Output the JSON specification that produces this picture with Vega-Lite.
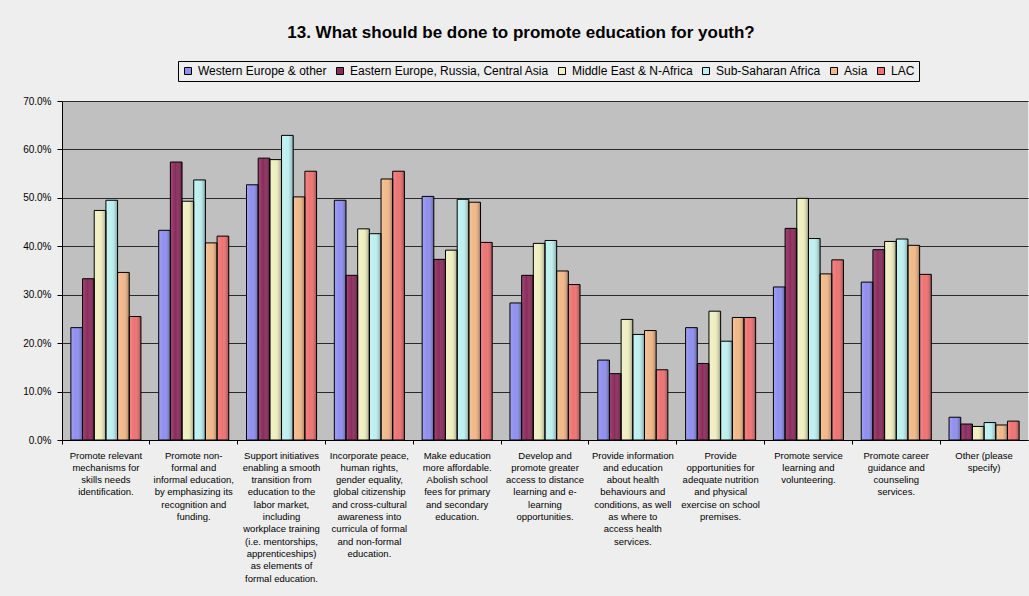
{
  "$schema": "https://vega.github.io/schema/vega-lite/v6.json",
  "width": 966,
  "height": 339,
  "autosize": {"type": "none"},
  "padding": {"left": 62, "top": 101, "right": 1, "bottom": 156},
  "background": "#eeeeee",
  "config": {
    "font": "Liberation Sans",
    "view": {"fill": "#c0c0c0", "stroke": null}
  },
  "title": {
    "text": "13. What should be done to promote education for youth?",
    "fontSize": 17,
    "fontWeight": "bold",
    "color": "#000000",
    "anchor": "middle",
    "dx": -24,
    "offset": 19
  },
  "data": {
    "values": [
      {"q": "Promote relevant|mechanisms for|skills needs|identification.", "Western Europe & other": 0.232, "Eastern Europe, Russia, Central Asia": 0.333, "Middle East & N-Africa": 0.474, "Sub-Saharan Africa": 0.495, "Asia": 0.346, "LAC": 0.255},
      {"q": "Promote non-|formal  and|informal education,|by emphasizing its|recognition and|funding.", "Western Europe & other": 0.433, "Eastern Europe, Russia, Central Asia": 0.574, "Middle East & N-Africa": 0.493, "Sub-Saharan Africa": 0.537, "Asia": 0.407, "LAC": 0.421},
      {"q": "Support initiatives|enabling a smooth|transition from|education to the|labor market,|including|workplace training|(i.e. mentorships,|apprenticeships)|as elements of|formal education.", "Western Europe & other": 0.527, "Eastern Europe, Russia, Central Asia": 0.582, "Middle East & N-Africa": 0.579, "Sub-Saharan Africa": 0.629, "Asia": 0.502, "LAC": 0.555},
      {"q": "Incorporate peace,|human rights,|gender equality,|global citizenship|and cross-cultural|awareness into|curricula of formal|and non-formal|education.", "Western Europe & other": 0.495, "Eastern Europe, Russia, Central Asia": 0.340, "Middle East & N-Africa": 0.436, "Sub-Saharan Africa": 0.426, "Asia": 0.539, "LAC": 0.555},
      {"q": "Make education|more affordable.|Abolish school|fees for primary|and secondary|education.", "Western Europe & other": 0.503, "Eastern Europe, Russia, Central Asia": 0.373, "Middle East & N-Africa": 0.392, "Sub-Saharan Africa": 0.497, "Asia": 0.491, "LAC": 0.408},
      {"q": "Develop and|promote greater|access to distance|learning and e-|learning|opportunities.", "Western Europe & other": 0.283, "Eastern Europe, Russia, Central Asia": 0.340, "Middle East & N-Africa": 0.406, "Sub-Saharan Africa": 0.412, "Asia": 0.349, "LAC": 0.321},
      {"q": "Provide information|and education|about health|behaviours and|conditions, as well|as where to|access health|services.", "Western Europe & other": 0.165, "Eastern Europe, Russia, Central Asia": 0.137, "Middle East & N-Africa": 0.249, "Sub-Saharan Africa": 0.218, "Asia": 0.226, "LAC": 0.145},
      {"q": "Provide|opportunities for|adequate nutrition|and physical|exercise on school|premises.", "Western Europe & other": 0.232, "Eastern Europe, Russia, Central Asia": 0.158, "Middle East & N-Africa": 0.266, "Sub-Saharan Africa": 0.204, "Asia": 0.253, "LAC": 0.253},
      {"q": "Promote service|learning and|volunteering.", "Western Europe & other": 0.316, "Eastern Europe, Russia, Central Asia": 0.437, "Middle East & N-Africa": 0.499, "Sub-Saharan Africa": 0.416, "Asia": 0.343, "LAC": 0.372},
      {"q": "Promote career|guidance and|counseling|services.", "Western Europe & other": 0.326, "Eastern Europe, Russia, Central Asia": 0.393, "Middle East & N-Africa": 0.410, "Sub-Saharan Africa": 0.415, "Asia": 0.402, "LAC": 0.342},
      {"q": "Other (please|specify)", "Western Europe & other": 0.047, "Eastern Europe, Russia, Central Asia": 0.033, "Middle East & N-Africa": 0.028, "Sub-Saharan Africa": 0.036, "Asia": 0.031, "LAC": 0.039}
    ]
  },
  "transform": [
    {"fold": ["Western Europe & other", "Eastern Europe, Russia, Central Asia", "Middle East & N-Africa", "Sub-Saharan Africa", "Asia", "LAC"], "as": ["region", "pct"]}
  ],
  "encoding": {
    "x": {
      "field": "q", "type": "nominal", "sort": null,
      "scale": {"paddingInner": 0, "paddingOuter": 0},
      "axis": {
        "title": null,
        "labelAngle": 0,
        "labelExpr": "split(datum.value, '|')",
        "labelFontSize": 9.5,
        "labelLineHeight": 12.3,
        "labelColor": "#000000",
        "labelLimit": 0,
        "labelBaseline": "top",
        "labelPadding": 6,
        "bandPosition": 0,
        "labelFlush": false,
        "labelOverlap": false,
        "domainColor": "#000000",
        "tickColor": "#000000",
        "tickSize": 4,
        "grid": false
      }
    },
    "xOffset": {
      "field": "region", "type": "nominal",
      "sort": ["Western Europe & other", "Eastern Europe, Russia, Central Asia", "Middle East & N-Africa", "Sub-Saharan Africa", "Asia", "LAC"],
      "scale": {"paddingInner": 0, "paddingOuter": 0.76}
    },
    "y": {
      "field": "pct", "type": "quantitative",
      "scale": {"domain": [0, 0.7], "nice": false},
      "axis": {
        "title": null,
        "format": ".1%",
        "values": [0, 0.1, 0.2, 0.3, 0.4, 0.5, 0.6, 0.7],
        "labelFontSize": 10,
        "labelColor": "#000000",
        "labelPadding": 6,
        "tickSize": 5,
        "tickColor": "#000000",
        "domainColor": "#000000",
        "gridColor": "#2a2a2a",
        "gridOpacity": 1,
        "gridWidth": 1
      }
    }
  },
  "layer": [
    {
      "mark": {"type": "bar", "strokeWidth": 0},
      "encoding": {
        "color": {
          "field": "region", "type": "nominal",
          "scale": {
            "domain": ["Western Europe & other", "Eastern Europe, Russia, Central Asia", "Middle East & N-Africa", "Sub-Saharan Africa", "Asia", "LAC"],
            "range": ["#8f8ff0", "#8c2b5c", "#efefc0", "#bdf0f0", "#f2b888", "#ef7272"]
          },
          "legend": {
            "title": null,
            "orient": "none",
            "legendX": 116,
            "legendY": -40,
            "direction": "horizontal",
            "symbolType": "square",
            "symbolSize": 49,
            "symbolStrokeColor": "#000000",
            "symbolStrokeWidth": 1,
            "symbolOpacity": 1,
            "labelFontSize": 12,
            "labelColor": "#000000",
            "labelOffset": 4,
            "columnPadding": 7,
            "padding": 4,
            "strokeColor": "#000000",
            "labelLimit": 0
          }
        }
      }
    },
    {
      "mark": {
        "type": "bar",
        "stroke": "#000000",
        "strokeWidth": 1,
        "color": {
          "gradient": "linear", "x1": 0, "x2": 1, "y1": 0, "y2": 0,
          "stops": [
            {"offset": 0, "color": "rgba(255,255,255,0.15)"},
            {"offset": 0.45, "color": "rgba(255,255,255,0)"},
            {"offset": 1, "color": "rgba(0,0,0,0.35)"}
          ]
        }
      },
      "encoding": {}
    }
  ]
}
